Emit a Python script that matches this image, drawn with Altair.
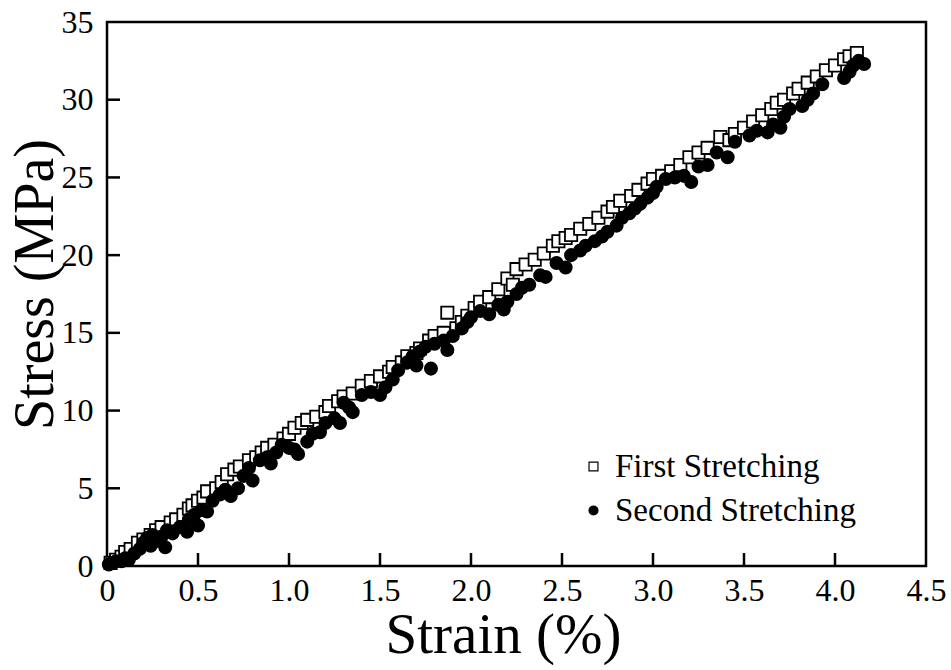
import altair as alt
import pandas as pd

# ---- data ----
strain_first = [0.02, 0.05, 0.08, 0.10, 0.13, 0.17, 0.20, 0.24, 0.27, 0.30, 0.35, 0.38, 0.42, 0.45,
                0.47, 0.50, 0.53, 0.55, 0.60, 0.63, 0.66, 0.70, 0.73, 0.78, 0.82, 0.85, 0.88, 0.92,
                0.97, 1.00, 1.03, 1.07, 1.10, 1.15, 1.20, 1.22, 1.27, 1.30, 1.35, 1.40, 1.45, 1.50,
                1.55, 1.57, 1.62, 1.65, 1.70, 1.72, 1.77, 1.80, 1.85, 1.87, 1.92, 1.95, 1.98, 2.02,
                2.05, 2.10, 2.15, 2.20, 2.23, 2.25, 2.30, 2.35, 2.40, 2.45, 2.48, 2.52, 2.55, 2.60,
                2.65, 2.70, 2.75, 2.78, 2.82, 2.88, 2.92, 2.97, 3.00, 3.05, 3.10, 3.15, 3.20, 3.25,
                3.30, 3.37, 3.42, 3.45, 3.50, 3.55, 3.60, 3.65, 3.68, 3.72, 3.77, 3.80, 3.85, 3.90,
                3.95, 4.00, 4.05, 4.08, 4.12]
stress_first = [0.2, 0.4, 0.6, 0.9, 1.1, 1.5, 1.7, 2.0, 2.3, 2.5, 2.8, 3.0, 3.3, 3.7,
                3.9, 4.2, 4.4, 4.8, 5.0, 5.4, 5.9, 6.2, 6.4, 6.8, 7.0, 7.3, 7.6, 7.8,
                8.2, 8.5, 8.9, 9.2, 9.4, 9.6, 9.9, 10.3, 10.6, 10.9, 11.1, 11.6, 11.9, 12.2,
                12.5, 12.8, 13.1, 13.5, 13.7, 14.0, 14.5, 14.8, 15.0, 16.3, 15.3, 15.7, 16.1, 16.6,
                17.0, 17.3, 17.8, 18.5, 18.1, 19.1, 19.4, 19.7, 20.1, 20.6, 20.9, 21.1, 21.3, 21.7,
                22.0, 22.4, 22.8, 23.1, 23.5, 23.8, 24.2, 24.6, 24.9, 25.1, 25.4, 25.8, 26.3, 26.6,
                26.9, 27.6, 27.4, 27.8, 28.2, 28.6, 29.0, 29.4, 29.8, 30.0, 30.4, 30.7, 31.1, 31.5,
                31.9, 32.2, 32.6, 32.8, 33.0]

strain_second = [0.01, 0.03, 0.05, 0.08, 0.10, 0.12, 0.15, 0.18, 0.20, 0.22, 0.24, 0.25, 0.27, 0.30,
                 0.32, 0.33, 0.36, 0.40, 0.44, 0.45, 0.48, 0.50, 0.52, 0.55, 0.58, 0.62, 0.65, 0.68,
                 0.72, 0.75, 0.78, 0.80, 0.84, 0.88, 0.90, 0.93, 0.96, 1.00, 1.03, 1.05, 1.10, 1.13,
                 1.17, 1.20, 1.25, 1.28, 1.30, 1.33, 1.35, 1.40, 1.45, 1.50, 1.53, 1.57, 1.60, 1.65,
                 1.68, 1.70, 1.72, 1.75, 1.78, 1.80, 1.85, 1.87, 1.90, 1.95, 1.98, 2.00, 2.05, 2.10,
                 2.15, 2.18, 2.20, 2.25, 2.28, 2.32, 2.38, 2.41, 2.47, 2.52, 2.55, 2.60, 2.63, 2.68,
                 2.72, 2.75, 2.80, 2.83, 2.87, 2.90, 2.93, 2.97, 3.00, 3.02, 3.07, 3.12, 3.17, 3.21,
                 3.25, 3.30, 3.35, 3.41, 3.45, 3.53, 3.57, 3.63, 3.66, 3.70, 3.72, 3.75, 3.82, 3.85,
                 3.88, 3.93, 4.05, 4.08, 4.10, 4.13, 4.16]
stress_second = [0.1, 0.2, 0.3, 0.3, 0.5, 0.4, 0.8, 1.1, 1.5, 1.8, 1.3, 2.0, 1.6, 1.9,
                 1.2, 2.3, 2.1, 2.5, 2.2, 3.0, 3.3, 2.6, 3.6, 3.5, 4.2, 4.6, 4.9, 4.5,
                 5.0, 5.8, 6.3, 5.5, 6.8, 7.0, 6.6, 7.3, 7.8, 7.6, 7.5, 7.2, 8.0, 8.5,
                 8.6, 9.2, 9.5, 9.2, 10.5, 10.2, 9.9, 11.0, 11.2, 11.0, 11.5, 12.0, 12.6, 13.1,
                 13.5, 12.9, 13.8, 14.1, 12.7, 14.3, 14.5, 13.9, 14.8, 15.3, 15.7, 16.0, 16.4, 16.2,
                 16.8, 16.5, 17.0, 17.5, 17.9, 18.1, 18.7, 18.6, 19.5, 19.2, 20.0, 20.3, 20.6, 20.9,
                 21.2, 21.5, 21.9, 22.4, 22.7, 23.0, 23.3, 23.7, 24.0, 24.4, 24.9, 25.0, 25.1, 24.7,
                 25.7, 25.8, 26.6, 26.3, 27.3, 27.7, 28.0, 27.9, 28.4, 28.2, 28.9, 29.4, 29.6, 30.0,
                 30.4, 31.0, 31.4, 31.8, 32.2, 32.5, 32.3]

series_names = ["First Stretching", "Second Stretching"]
x_ticks = [0.5, 1.0, 1.5, 2.0, 2.5, 3.0, 3.5, 4.0]
y_ticks = [5, 10, 15, 20, 25, 30]
x_labels = [0, 0.5, 1.0, 1.5, 2.0, 2.5, 3.0, 3.5, 4.0, 4.5]
y_labels = [0, 5, 10, 15, 20, 25, 30, 35]

df = pd.concat([
    pd.DataFrame({"strain": strain_first, "stress": stress_first, "series": series_names[0]}),
    pd.DataFrame({"strain": strain_second, "stress": stress_second, "series": series_names[1]}),
], ignore_index=True)

FONT = "Liberation Serif"
W, H = 819, 544

xscale = alt.Scale(domain=[0, 4.5], nice=False, zero=False)
yscale = alt.Scale(domain=[0, 35], nice=False, zero=False)


def make_legend():
    return alt.Legend(title=None, orient="none", legendX=470, legendY=428,
                      labelFontSize=33, labelFont=FONT, labelColor="black", labelLimit=600,
                      symbolSize=80, symbolStrokeWidth=1.2,
                      labelOffset=5, rowPadding=10, padding=0)


points = alt.Chart(df).mark_point(filled=True, strokeWidth=1.8,
                                  size=150, opacity=1).encode(
    x=alt.X("strain:Q", scale=xscale,
            axis=alt.Axis(title="Strain (%)", values=x_labels, domain=False, ticks=False,
                          grid=False, labelPadding=9,
                          labelExpr="datum.value == 0 ? '0' : format(datum.value, '.1f')",
                          labelFont=FONT, labelFontSize=32, labelColor="black",
                          labelFlush=False, labelOverlap=False,
                          titleFont=FONT, titleFontSize=57, titleFontWeight="normal",
                          titleColor="black",
                          titleBaseline="alphabetic", titleX=396, titleY=86)),
    y=alt.Y("stress:Q", scale=yscale,
            axis=alt.Axis(title="Stress (MPa)", values=y_labels, domain=False, ticks=False,
                          grid=False, labelPadding=14, format="d",
                          labelFont=FONT, labelFontSize=32, labelColor="black",
                          labelFlush=False, labelOverlap=False,
                          titleFont=FONT, titleFontSize=56, titleFontWeight="normal",
                          titleColor="black",
                          titleAngle=-90, titleBaseline="alphabetic", titleAlign="center",
                          titleX=-55, titleY=262)),
    fill=alt.Fill("series:N", scale=alt.Scale(domain=series_names, range=["white", "black"]),
                  legend=make_legend()),
    stroke=alt.Stroke("series:N", scale=alt.Scale(domain=series_names, range=["black", "black"]),
                      legend=make_legend()),
    shape=alt.Shape("series:N", scale=alt.Scale(domain=series_names, range=["square", "circle"]),
                    legend=make_legend()),
    order=alt.Order("series:N"),
)

xt = alt.Chart(pd.DataFrame({"v": x_ticks})).mark_rule(color="black", strokeWidth=2.5).encode(
    x=alt.X("v:Q", scale=xscale), y=alt.value(H), y2=alt.value(H - 13))
yt = alt.Chart(pd.DataFrame({"v": y_ticks})).mark_rule(color="black", strokeWidth=2.5).encode(
    y=alt.Y("v:Q", scale=yscale), x=alt.value(0), x2=alt.value(13))

chart = alt.layer(points, xt, yt).properties(
    width=W, height=H, autosize="none",
    padding={"left": 107, "top": 22, "right": 25, "bottom": 104},
).configure(font=FONT).configure_view(
    stroke="black", strokeWidth=2.5
).configure_axis(labelFont=FONT, titleFont=FONT, labelColor="black", titleColor="black"
).configure_legend(labelFont=FONT)

chart.save("out.html", embed_options={"renderer": "svg", "actions": False})
